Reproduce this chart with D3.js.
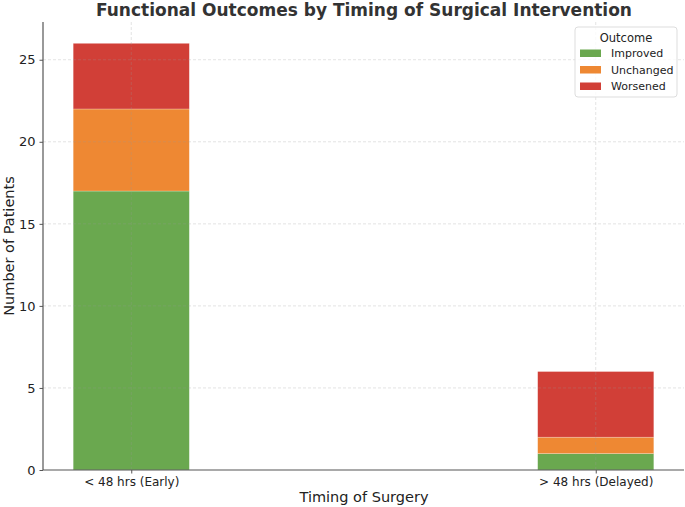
<!DOCTYPE html>
<html>
<head>
<meta charset="utf-8">
<script src="https://cdn.jsdelivr.net/npm/d3@7"></script>
<style>
  body { margin: 0; background: #fff; }
  text { font-family: "DejaVu Sans", sans-serif; }
</style>
</head>
<body>
<script>
var categories = ['< 48 hrs (Early)', '> 48 hrs (Delayed)'];
var outcomes = ['Improved', 'Unchanged', 'Worsened'];
var improved = [17, 1];
var unchanged = [5, 1];
var worsened = [4, 4];
var yTicks = [0, 5, 10, 15, 20, 25];

var colors = { Improved: '#6aa84f', Unchanged: '#ee8833', Worsened: '#d13f37' };

var w = 685, h = 507;
var padL = 43, padR = 684, padT = 22, padB = 470;

var svg = d3.select('body').append('svg')
    .attr('width', w)
    .attr('height', h);

// table for the stack
var table = categories.map(function(c, i){
    return { cat: c, idx: i, Improved: improved[i], Unchanged: unchanged[i], Worsened: worsened[i] };
});
var series = d3.stack().keys(outcomes)(table);

var x = d3.scaleLinear().domain([-0.19, 1.19]).range([padL, padR]);
var y = d3.scaleLinear().domain([0, 27.3]).range([padB, padT]);
var barW = 0.25;

// bars
svg.selectAll('g.layer')
    .data(series)
    .enter()
    .append('g')
    .attr('class', 'layer')
    .attr('fill', function(d){ return colors[d.key]; })
    .selectAll('rect')
    .data(function(d){ return d; })
    .enter()
    .append('rect')
    .attr('x', function(d){ return x(d.data.idx - barW / 2); })
    .attr('width', x(barW) - x(0))
    .attr('y', function(d){ return y(d[1]); })
    .attr('height', function(d){ return y(d[0]) - y(d[1]); })
    .attr('stroke', '#fff')
    .attr('stroke-opacity', 0.4)
    .attr('stroke-width', 0.6);

// grid on top
var grid = svg.append('g')
    .attr('stroke', '#999')
    .attr('stroke-opacity', 0.35)
    .attr('stroke-dasharray', '3,2')
    .attr('stroke-width', 0.8);
grid.selectAll('line.h')
    .data(yTicks.slice(1))
    .enter().append('line')
    .attr('x1', padL).attr('x2', padR)
    .attr('y1', function(d){ return y(d); })
    .attr('y2', function(d){ return y(d); });
grid.selectAll('line.v')
    .data(categories)
    .enter().append('line')
    .attr('y1', padT).attr('y2', padB)
    .attr('x1', function(d, i){ return x(i); })
    .attr('x2', function(d, i){ return x(i); });

// y axis
var yAxis = svg.append('g')
    .attr('transform', 'translate(' + padL + ',0)')
    .call(d3.axisLeft(y).tickValues(yTicks).tickSize(3.5).tickPadding(4));
yAxis.select('.domain').attr('stroke', '#555').attr('stroke-width', 1.2)
    .attr('d', 'M0,' + padB + 'V' + padT);
yAxis.selectAll('.tick line').attr('stroke', '#555');
yAxis.selectAll('text').attr('font-size', '13px').attr('fill', '#222');

// x axis
var xAxis = svg.append('g')
    .attr('transform', 'translate(0,' + padB + ')')
    .call(d3.axisBottom(x).tickValues([0, 1]).tickSize(3.5).tickPadding(4)
        .tickFormat(function(d){ return categories[d]; }));
xAxis.select('.domain').attr('stroke', '#555').attr('stroke-width', 1.2)
    .attr('d', 'M' + padL + ',0H' + padR);
xAxis.selectAll('.tick line').attr('stroke', '#555');
xAxis.selectAll('text').attr('font-size', '12px').attr('fill', '#222');

// labels
svg.append('text')
    .attr('x', 364).attr('y', 15.5)
    .attr('text-anchor', 'middle')
    .attr('font-size', '17px')
    .attr('font-weight', 'bold')
    .attr('fill', '#333')
    .text('Functional Outcomes by Timing of Surgical Intervention');

svg.append('text')
    .attr('x', 364).attr('y', 502)
    .attr('text-anchor', 'middle')
    .attr('font-size', '14.5px')
    .attr('fill', '#222')
    .text('Timing of Surgery');

svg.append('text')
    .attr('transform', 'translate(14,' + (padT + padB) / 2 + ') rotate(-90)')
    .attr('text-anchor', 'middle')
    .attr('font-size', '14.5px')
    .attr('fill', '#222')
    .text('Number of Patients');

// legend
var lg = svg.append('g').attr('transform', 'translate(575,27)');
lg.append('rect')
    .attr('width', 102).attr('height', 70)
    .attr('rx', 3)
    .attr('fill', '#fff').attr('fill-opacity', 0.8)
    .attr('stroke', '#ddd');
lg.append('text')
    .attr('x', 51).attr('y', 15)
    .attr('text-anchor', 'middle')
    .attr('font-size', '11.5px')
    .attr('fill', '#222')
    .text('Outcome');
var items = lg.selectAll('g.item')
    .data(outcomes)
    .enter().append('g')
    .attr('transform', function(d, i){ return 'translate(5,' + (22.5 + i * 16.5) + ')'; });
items.append('rect')
    .attr('width', 21).attr('height', 7.5)
    .attr('fill', function(d){ return colors[d]; });
items.append('text')
    .attr('x', 31).attr('y', 7.5)
    .attr('font-size', '11px')
    .attr('fill', '#222')
    .text(function(d){ return d; });
</script>
</body>
</html>
